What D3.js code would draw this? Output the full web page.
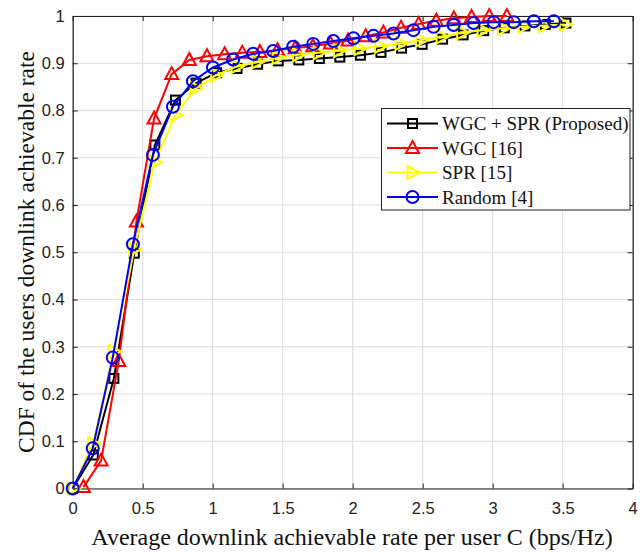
<!DOCTYPE html>
<html><head><meta charset="utf-8">
<script src="https://cdn.jsdelivr.net/npm/d3@7"></script>
<style>html,body{margin:0;padding:0;background:#fff;}</style>
</head><body>
<svg id="c" width="640" height="553"></svg>
<script>
const seriesNames = ["WGC + SPR (Proposed)", "WGC [16]", "SPR [15]", "Random [4]"];
const xTicks = [0, 0.5, 1, 1.5, 2, 2.5, 3, 3.5, 4];
const yTicks = [0, 0.1, 0.2, 0.3, 0.4, 0.5, 0.6, 0.7, 0.8, 0.9, 1];

const xProposed = [0, 0.147, 0.294, 0.440, 0.587, 0.734, 0.881, 1.028, 1.174, 1.321, 1.468, 1.615, 1.762, 1.908, 2.055, 2.202, 2.349, 2.496, 2.642, 2.789, 2.936, 3.083, 3.230, 3.376, 3.523];
const yProposed = [0, 0.071, 0.233, 0.498, 0.727, 0.822, 0.858, 0.880, 0.889, 0.898, 0.905, 0.907, 0.910, 0.913, 0.917, 0.923, 0.932, 0.940, 0.951, 0.960, 0.969, 0.975, 0.979, 0.982, 0.985];

const xWGC = [0.077, 0.203, 0.329, 0.455, 0.581, 0.707, 0.833, 0.959, 1.085, 1.211, 1.337, 1.463, 1.589, 1.715, 1.841, 1.967, 2.093, 2.219, 2.345, 2.471, 2.597, 2.723, 2.849, 2.975, 3.101];
const yWGC = [0.003, 0.059, 0.270, 0.565, 0.783, 0.877, 0.907, 0.915, 0.919, 0.922, 0.924, 0.928, 0.932, 0.936, 0.942, 0.948, 0.957, 0.965, 0.975, 0.983, 0.990, 0.995, 0.998, 1.0, 1.0];

const xSPR = [0, 0.146, 0.293, 0.439, 0.586, 0.732, 0.878, 1.025, 1.171, 1.318, 1.464, 1.610, 1.757, 1.903, 2.050, 2.196, 2.342, 2.489, 2.635, 2.782, 2.928, 3.074, 3.221, 3.367, 3.514];
const ySPR = [0, 0.095, 0.290, 0.506, 0.690, 0.790, 0.847, 0.875, 0.893, 0.903, 0.912, 0.918, 0.922, 0.927, 0.931, 0.936, 0.942, 0.949, 0.956, 0.965, 0.970, 0.974, 0.978, 0.980, 0.982];

const xRandom = [0, 0.143, 0.286, 0.430, 0.573, 0.716, 0.859, 1.002, 1.146, 1.289, 1.432, 1.575, 1.718, 1.862, 2.005, 2.148, 2.291, 2.434, 2.578, 2.721, 2.864, 3.007, 3.150, 3.294, 3.437];
const yRandom = [0, 0.085, 0.277, 0.517, 0.706, 0.808, 0.862, 0.891, 0.908, 0.920, 0.926, 0.935, 0.941, 0.947, 0.953, 0.958, 0.963, 0.970, 0.977, 0.981, 0.985, 0.987, 0.987, 0.989, 0.989];

const colors = ["#000000", "#ff0000", "#ffff00", "#0000ff"];
const markers = ["square", "triangle", "right", "circle"];

const svg = d3.select("#c");
const L = 72.7, R = 632.7, T = 16, B = 488.5;
const x = d3.scaleLinear().domain([0, 4]).range([L, R]);
const y = d3.scaleLinear().domain([0, 1]).range([B, T]);

// grid
const g = svg.append("g");
g.selectAll(".gx").data(xTicks).enter().append("line")
  .attr("x1", d => x(d)).attr("x2", d => x(d)).attr("y1", T).attr("y2", B)
  .attr("stroke", "#dcdcdc").attr("stroke-width", 1);
g.selectAll(".gy").data(yTicks).enter().append("line")
  .attr("y1", d => y(d)).attr("y2", d => y(d)).attr("x1", L).attr("x2", R)
  .attr("stroke", "#dcdcdc").attr("stroke-width", 1);

// axes
const fontTick = "'Liberation Sans', Arial, sans-serif";
const serif = "'Liberation Serif', 'Times New Roman', serif";
const xAxis = d3.axisBottom(x).tickValues(xTicks).tickFormat(d3.format("")).tickSizeInner(-5).tickSizeOuter(0).tickPadding(14);
const yAxis = d3.axisLeft(y).tickValues(yTicks).tickFormat(d3.format("")).tickSizeInner(-5).tickSizeOuter(0).tickPadding(8);
const xa = svg.append("g").attr("transform", `translate(0,${B})`).call(xAxis);
const ya = svg.append("g").attr("transform", `translate(${L},0)`).call(yAxis);
const xt = svg.append("g").attr("transform", `translate(0,${T})`).call(d3.axisTop(x).tickValues(xTicks).tickFormat("").tickSizeInner(-5).tickSizeOuter(0));
const yr = svg.append("g").attr("transform", `translate(${R},0)`).call(d3.axisRight(y).tickValues(yTicks).tickFormat("").tickSizeInner(-5).tickSizeOuter(0));
[xa, ya, xt, yr].forEach(a => {
  a.select(".domain").attr("stroke", "#222").attr("stroke-width", 1.2);
  a.selectAll(".tick line").attr("stroke", "#222");
  a.selectAll("text").attr("font-family", fontTick).attr("font-size", 16.5).attr("fill", "#222");
});

// series
const series = [
  {xs: xProposed, ys: yProposed},
  {xs: xWGC, ys: yWGC},
  {xs: xSPR, ys: ySPR},
  {xs: xRandom, ys: yRandom}
];
const line = d3.line().x(d => x(d[0])).y(d => y(d[1]));

function drawMarker(sel, type, color) {
  if (type === "square") {
    sel.append("rect").attr("x", -4.5).attr("y", -4.5).attr("width", 9).attr("height", 9)
      .attr("fill", "none").attr("stroke", color).attr("stroke-width", 2);
  } else if (type === "triangle") {
    sel.append("path").attr("d", "M0,-7 L6.5,5 L-6.5,5 Z")
      .attr("fill", "none").attr("stroke", color).attr("stroke-width", 2);
  } else if (type === "right") {
    sel.append("path").attr("d", "M7,0 L-5,-6.5 L-5,6.5 Z")
      .attr("fill", "none").attr("stroke", color).attr("stroke-width", 2);
  } else {
    sel.append("circle").attr("r", 6).attr("fill", "none").attr("stroke", color).attr("stroke-width", 2);
  }
}

series.forEach((s, i) => {
  const pts = s.xs.map((v, k) => [v, s.ys[k]]);
  const sg = svg.append("g");
  sg.append("path").datum(pts).attr("d", line).attr("fill", "none")
    .attr("stroke", colors[i]).attr("stroke-width", 2);
  sg.selectAll(".m").data(pts).enter().append("g")
    .attr("transform", d => `translate(${x(d[0])},${y(d[1])})`)
    .each(function() { drawMarker(d3.select(this), markers[i], colors[i]); });
});

// legend
const lg = svg.append("g");
lg.append("rect").attr("x", 381.5).attr("y", 108.5).attr("width", 248.5).attr("height", 101.5)
  .attr("fill", "#fff").attr("stroke", "#222").attr("stroke-width", 1);
const ly = [123.5, 148, 172.5, 197];
seriesNames.forEach((n, i) => {
  const e = lg.append("g").attr("transform", `translate(0,${ly[i]})`);
  e.append("line").attr("x1", 387).attr("x2", 438).attr("y1", 0).attr("y2", 0)
    .attr("stroke", colors[i]).attr("stroke-width", 2);
  const m = e.append("g").attr("transform", "translate(412.5,0)");
  drawMarker(m, markers[i], colors[i]);
  e.append("text").attr("x", 442).attr("y", 0).attr("dy", "0.35em")
    .attr("font-family", serif).attr("font-size", 19)
    .attr("fill", "#111").text(n);
});

// axis titles
svg.append("text").attr("x", 352).attr("y", 545)
  .attr("text-anchor", "middle").attr("font-family", serif)
  .attr("font-size", 24).attr("fill", "#111")
  .text("Average downlink achievable rate per user C (bps/Hz)");
svg.append("text").attr("transform", `translate(34,252) rotate(-90)`)
  .attr("text-anchor", "middle").attr("font-family", serif)
  .attr("font-size", 23.5).attr("fill", "#111")
  .text("CDF of the users downlink achievable rate");
</script>
</body></html>
